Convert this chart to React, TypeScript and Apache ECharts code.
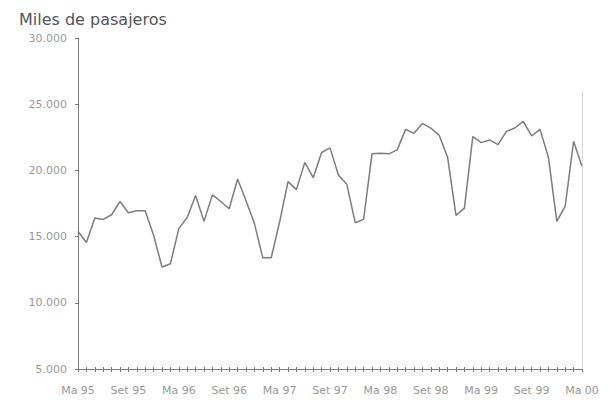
import React, { useEffect, useRef } from "react";
import * as echarts from "echarts";

const title = "Miles de pasajeros";

const categories = [
  "Ma 95", "Ab 95", "My 95", "Jn 95", "Jl 95", "Ag 95", "Set 95", "Oc 95", "No 95", "Di 95", "En 96", "Fe 96",
  "Ma 96", "Ab 96", "My 96", "Jn 96", "Jl 96", "Ag 96", "Set 96", "Oc 96", "No 96", "Di 96", "En 97", "Fe 97",
  "Ma 97", "Ab 97", "My 97", "Jn 97", "Jl 97", "Ag 97", "Set 97", "Oc 97", "No 97", "Di 97", "En 98", "Fe 98",
  "Ma 98", "Ab 98", "My 98", "Jn 98", "Jl 98", "Ag 98", "Set 98", "Oc 98", "No 98", "Di 98", "En 99", "Fe 99",
  "Ma 99", "Ab 99", "My 99", "Jn 99", "Jl 99", "Ag 99", "Set 99", "Oc 99", "No 99", "Di 99", "En 00", "Fe 00",
  "Ma 00",
];

const pasajeros = [
  15400, 14550, 16400, 16300, 16650, 17650, 16800, 16950, 16950, 15100, 12700, 12950,
  15600, 16450, 18100, 16150, 18150, 17650, 17100, 19350, 17700, 16000, 13400, 13400,
  16100, 19150, 18550, 20600, 19450, 21350, 21700, 19650, 18950, 16050, 16300, 21250,
  21300, 21250, 21550, 23100, 22800, 23550, 23200, 22650, 21000, 16600, 17150, 22550,
  22100, 22300, 21950, 22950, 23200, 23700, 22600, 23100, 21000, 16150, 17300, 22200,
  20300,
];

const yMin = 5000;
const yMax = 30000;
const yStep = 5000;

const fmt = (v: number) => String(v).replace(/\B(?=(\d{3})+(?!\d))/g, ".");

export default function App() {
  const ref = useRef<HTMLDivElement>(null);
  useEffect(() => {
    if (!ref.current) return;
    const chart = echarts.init(ref.current, null, { renderer: "svg" });
    const labelFont = {
      fontFamily: "DejaVu Sans",
      fontSize: 11,
      color: "#999999",
    };
    chart.setOption({
      animation: false,
      backgroundColor: "#ffffff",
      title: {
        text: title,
        left: 14,
        top: 6,
        textStyle: {
          fontFamily: "DejaVu Sans",
          fontSize: 16,
          fontWeight: "normal",
          color: "#555555",
        },
      },
      grid: { left: 78, right: 28, top: 38, bottom: 31 },
      xAxis: [
        {
          type: "category",
          data: categories,
          boundaryGap: false,
          axisLine: { lineStyle: { color: "#7a7a7a", width: 1 } },
          axisTick: {
            show: true,
            interval: 0,
            length: 3,
            lineStyle: { color: "#7a7a7a" },
          },
          axisLabel: {
            interval: 5,
            margin: 16,
            ...labelFont,
          },
          splitLine: { show: false },
        },
        {
          type: "category",
          data: categories,
          boundaryGap: false,
          position: "bottom",
          axisLine: { show: false },
          axisTick: {
            show: true,
            inside: true,
            interval: 0,
            length: 2,
            lineStyle: { color: "#7a7a7a" },
          },
          axisLabel: { show: false },
          splitLine: { show: false },
        },
      ],
      yAxis: {
        type: "value",
        min: yMin,
        max: yMax,
        interval: yStep,
        axisLine: { show: true, lineStyle: { color: "#7a7a7a", width: 1 } },
        axisTick: { show: true, length: 3, lineStyle: { color: "#7a7a7a" } },
        axisLabel: {
          margin: 11,
          formatter: (v: number) => fmt(v),
          ...labelFont,
        },
        splitLine: { show: false },
      },
      series: [
        {
          type: "line",
          data: pasajeros,
          showSymbol: false,
          symbol: "none",
          lineStyle: { color: "#7d7d7d", width: 1.5 },
          markLine: {
            silent: true,
            symbol: "none",
            label: { show: false },
            lineStyle: { color: "#d6d6d6", width: 1, type: "solid" },
            data: [
              [
                { coord: ["Ma 00", 26000] },
                { coord: ["Ma 00", 5000] },
              ],
            ],
          },
        },
      ],
    });
    return () => chart.dispose();
  }, []);
  return (
    <div
      ref={ref}
      style={{ position: "fixed", left: 0, top: 0, width: 610, height: 400 }}
    />
  );
}
